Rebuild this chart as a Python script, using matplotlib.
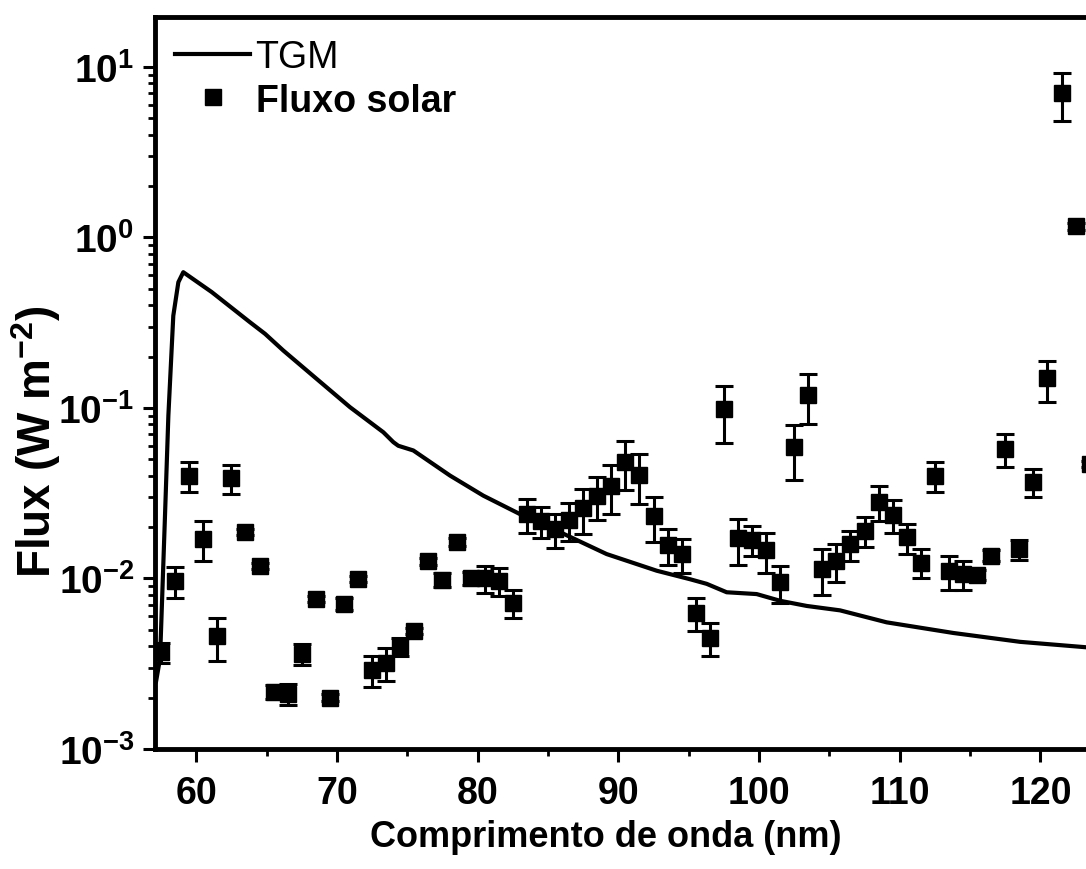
import math
import matplotlib
matplotlib.use('Agg')
import matplotlib.pyplot as plt
from matplotlib.lines import Line2D
from matplotlib.ticker import LogLocator, MultipleLocator, FuncFormatter, NullFormatter

plt.rcParams['font.family'] = ['Liberation Sans', 'DejaVu Sans']
plt.rcParams['font.weight'] = 'bold'
plt.rcParams['mathtext.fontset'] = 'custom'
plt.rcParams['mathtext.rm'] = 'Liberation Sans:bold'
plt.rcParams['mathtext.bf'] = 'Liberation Sans:bold'
plt.rcParams['mathtext.default'] = 'regular'

# TGM model curve
tgm_x = [57.15, 57.43, 57.78, 58.02, 58.37, 58.73, 59.08, 61.1, 63.82, 64.89,
         66.19, 68.56, 70.93, 73.30, 74.01, 74.36, 75.43, 78.04, 80.40, 83.25,
         85.85, 89.17, 92.73, 95.09, 96.28, 97.70, 99.83, 101.49, 103.39,
         105.76, 109.07, 113.81, 118.55, 123.4]
tgm_y = [0.0025, 0.0034, 0.0233, 0.090, 0.347, 0.546, 0.625, 0.478, 0.318,
         0.272, 0.217, 0.148, 0.101, 0.072, 0.063, 0.060, 0.0563, 0.0401,
         0.0306, 0.0233, 0.0187, 0.0139, 0.0111, 0.0099, 0.0093, 0.0083,
         0.0081, 0.0074, 0.0069, 0.0065, 0.00553, 0.00479, 0.00425, 0.00394]

# solar flux bins
flux_x = [57.5, 58.5, 59.5, 60.5, 61.5, 62.5, 63.5, 64.5, 65.5, 66.5,
          67.5, 68.5, 69.5, 70.5, 71.5, 72.5, 73.5, 74.5, 75.5, 76.5,
          77.5, 78.5, 79.5, 80.5, 81.5, 82.5, 83.5, 84.5, 85.5, 86.5,
          87.5, 88.5, 89.5, 90.5, 91.5, 92.5, 93.5, 94.5, 95.5, 96.5,
          97.5, 98.5, 99.5, 100.5, 101.5, 102.5, 103.5, 104.5, 105.5, 106.5,
          107.5, 108.5, 109.5, 110.5, 111.5, 112.5, 113.5, 114.5, 115.5, 116.5,
          117.5, 118.5, 119.5, 120.5, 121.5, 122.5, 123.5]
flux_y = [0.0037, 0.0097, 0.040, 0.0171, 0.0046, 0.0388, 0.0188, 0.0118, 0.00216, 0.0021,
          0.0036, 0.0076, 0.0020, 0.0071, 0.0099, 0.0029, 0.0032, 0.0040, 0.0049, 0.0126,
          0.0098, 0.0164, 0.0100, 0.0100, 0.0097, 0.0072, 0.0239, 0.0218, 0.0195, 0.0221,
          0.0258, 0.0306, 0.035, 0.0484, 0.0404, 0.0232, 0.0157, 0.0139, 0.0063, 0.0045,
          0.0986, 0.0172, 0.0169, 0.0146, 0.0095, 0.0589, 0.119, 0.0114, 0.0127, 0.0159,
          0.0191, 0.0282, 0.0236, 0.0175, 0.0124, 0.0401, 0.0111, 0.0106, 0.0105, 0.0136,
          0.0575, 0.0149, 0.037, 0.149, 7.04, 1.16, 0.047]
flux_err = [0.0005, 0.002, 0.008, 0.0045, 0.0013, 0.0075, 0.0008, 0.0005, 0.0002, 0.0003,
            0.0005, 0.0003, 0.0001, 0.0006, 0.0004, 0.0006, 0.0007, 0.0005, 0.0002, 0.0006,
            0.0009, 0.0009, 0.0009, 0.0018, 0.0018, 0.0013, 0.0055, 0.0045, 0.0045, 0.0055,
            0.0075, 0.0085, 0.011, 0.0155, 0.013, 0.0068, 0.0037, 0.0032, 0.0014, 0.001,
            0.036, 0.0052, 0.0034, 0.0038, 0.0023, 0.021, 0.039, 0.0034, 0.0032, 0.0032,
            0.0039, 0.0066, 0.0052, 0.0035, 0.0024, 0.008, 0.0025, 0.002, 0.0007, 0.001,
            0.0125, 0.002, 0.007, 0.04, 2.2, 0.05, 0.002]

fig = plt.figure(figsize=(10.86, 8.7), dpi=100)
W, H = 1086, 870
x0, x1 = 57.07, 123.5
px_per_nm = 14.07
ax_w = (x1 - x0) * px_per_nm
ax = fig.add_axes([155 / W, 120 / H, ax_w / W, 732 / H])

ax.plot(tgm_x, tgm_y, color='black', lw=3, zorder=2)
ax.errorbar(flux_x, flux_y, yerr=flux_err, fmt='s', color='black', ms=11,
            elinewidth=2.2, capsize=6.5, capthick=2.2, zorder=3)

ax.set_yscale('log')
ax.set_xlim(x0, x1)
ax.set_ylim(1e-3, 19.6)

ax.xaxis.set_major_locator(MultipleLocator(10))
ax.xaxis.set_minor_locator(MultipleLocator(5))
ax.yaxis.set_major_locator(LogLocator(base=10, numticks=10))
ax.yaxis.set_minor_locator(LogLocator(base=10, subs=range(2, 10), numticks=20))
ax.yaxis.set_minor_formatter(NullFormatter())
ax.yaxis.set_major_formatter(FuncFormatter(lambda v, p: r'$10^{%d}$' % round(math.log10(v))))

for s in ax.spines.values():
    s.set_linewidth(3.5)
ax.tick_params(which='major', direction='out', length=9, width=2.2, labelsize=28, pad=6)
ax.tick_params(which='minor', direction='out', length=5, width=2)
ax.tick_params(axis='x', which='major', labelsize=27, pad=10)
for lab in ax.get_xticklabels() + ax.get_yticklabels():
    lab.set_fontweight('bold')

ax.set_xlabel('Comprimento de onda (nm)', fontsize=26, fontweight='bold')
ax.xaxis.set_label_coords((606 - 155) / ax_w, -0.095)
ax.set_ylabel('Flux (W m$^{-2}$)', fontsize=33, fontweight='bold')
ax.yaxis.set_label_coords((63 - 155) / ax_w, (750 - 442) / 732)

handles = [Line2D([], [], color='black', lw=3),
           Line2D([], [], color='black', marker='s', ms=11, ls='none')]
leg = ax.legend(handles, ['TGM', 'Fluxo solar'], loc='upper left',
                bbox_to_anchor=(175 / W, 1 - 40 / H), bbox_transform=fig.transFigure,
                frameon=False, fontsize=27, handlelength=2.0, handletextpad=0.15,
                labelspacing=0.2, borderpad=0, borderaxespad=0)
leg.get_texts()[0].set_fontweight('normal')

fig.savefig('out.png', dpi=100)
